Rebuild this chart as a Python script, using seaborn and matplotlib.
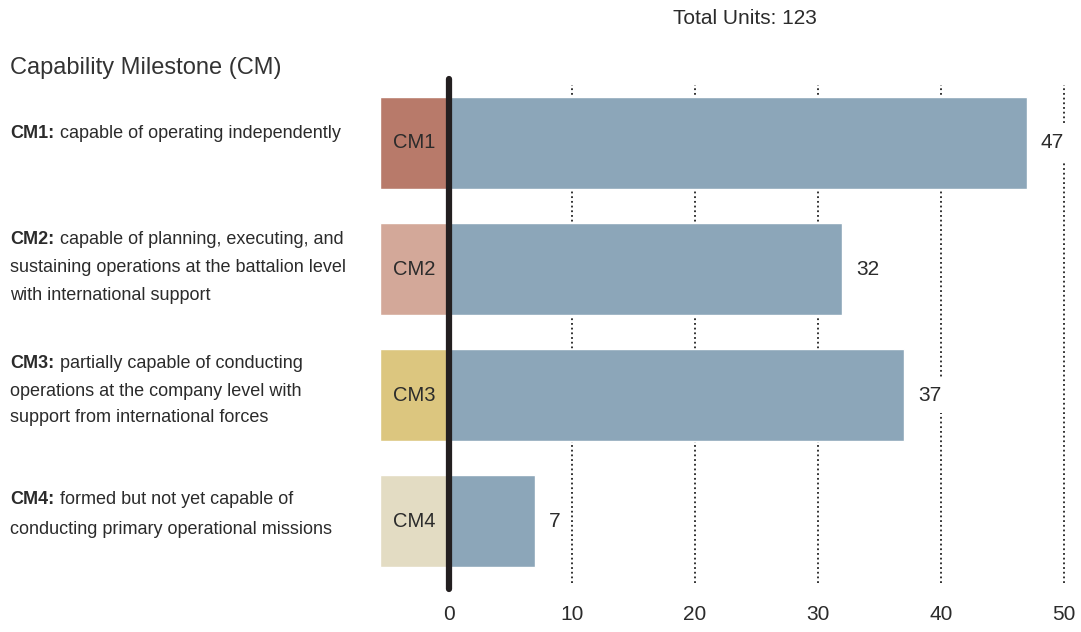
import matplotlib
matplotlib.use('Agg')
import matplotlib.pyplot as plt
import seaborn as sns
import pandas as pd

milestones = ['CM1', 'CM2', 'CM3', 'CM4']
units = [47, 32, 37, 7]
box_colors = ['#b87a6a', '#d3a899', '#dcc67f', '#e3dcc3']
bar_color = '#8ca6b9'
descriptions = [
    ['capable of operating independently'],
    ['capable of planning, executing, and',
     'sustaining operations at the battalion level',
     'with international support'],
    ['partially capable of conducting',
     'operations at the company level with',
     'support from international forces'],
    ['formed but not yet capable of',
     'conducting primary operational missions'],
]
x_ticks = [0, 10, 20, 30, 40, 50]

sns.set_theme(style='white')
plt.rcParams['font.family'] = ['Liberation Sans Narrow', 'Liberation Sans', 'DejaVu Sans']
TXT = '#2b2b2b'

W, H = 1081, 632
fig = plt.figure(figsize=(W / 100, H / 100), dpi=100)
ax = fig.add_axes([380 / W, 49 / H, 701 / W, 498 / H])

df = pd.DataFrame({'milestone': milestones, 'units': units})
sns.barplot(data=df, x='units', y='milestone', orient='h', color=bar_color,
            width=0.73, saturation=1, ax=ax, zorder=2)

# coloured CM boxes left of zero
ax.barh(range(len(milestones)), [-5.6] * len(milestones), height=0.73,
        color=box_colors, zorder=2)
for i, m in enumerate(milestones):
    ax.text(-2.8, i, m, ha='center', va='center', fontsize=14.5, color=TXT, zorder=3)

# value labels
for i, v in enumerate(units):
    ax.annotate(str(v), xy=(v, i), xytext=(10, 0), textcoords='offset points',
                ha='left', va='center', fontsize=15, color=TXT, zorder=4,
                bbox=dict(boxstyle='square,pad=0.4', fc='white', ec='none'))

ax.set_xlim(-5.6, 51.4)
ax.set_ylim(3.49, -0.46)
ax.set_xticks(x_ticks)
ax.set_xticklabels([str(t) for t in x_ticks], fontsize=15, color=TXT)
ax.tick_params(axis='x', length=0, pad=16)
ax.set_yticks([])
ax.set_xlabel('')
ax.set_ylabel('')
for s in ax.spines.values():
    s.set_visible(False)

ax.xaxis.grid(True, linestyle=(0, (1, 1.6)), color='#222222', linewidth=1.3)
ax.set_axisbelow(True)
ax.axvline(0, ymin=-0.012, ymax=1.012, color='#231f20', linewidth=4.5,
           clip_on=False, zorder=5)

# header texts
fig.text(10 / W, 1 - 68 / H, 'Capability Milestone (CM)', fontsize=17,
         color='#333333', va='center', ha='left')
fig.text(745 / W, 1 - 18 / H, f'Total Units: {sum(units)}', fontsize=15,
         color=TXT, va='center', ha='center')

# descriptions with bold prefix
line_y = [[133], [239, 267, 295], [364, 391, 418], [500, 529]]
for m, lines, ys in zip(milestones, descriptions, line_y):
    first = fig.text(10 / W, 1 - ys[0] / H, f'{m}:', fontsize=13,
                     weight='bold', color=TXT, va='center', ha='left')
    ax.annotate(lines[0], xy=(1, 0), xycoords=first, xytext=(4, 0),
                textcoords='offset points', fontsize=13, color=TXT,
                va='bottom', ha='left', annotation_clip=False)
    for txt, y in zip(lines[1:], ys[1:]):
        fig.text(10 / W, 1 - y / H, txt, fontsize=13, color=TXT,
                 va='center', ha='left')

plt.savefig('out.png', dpi=100)
